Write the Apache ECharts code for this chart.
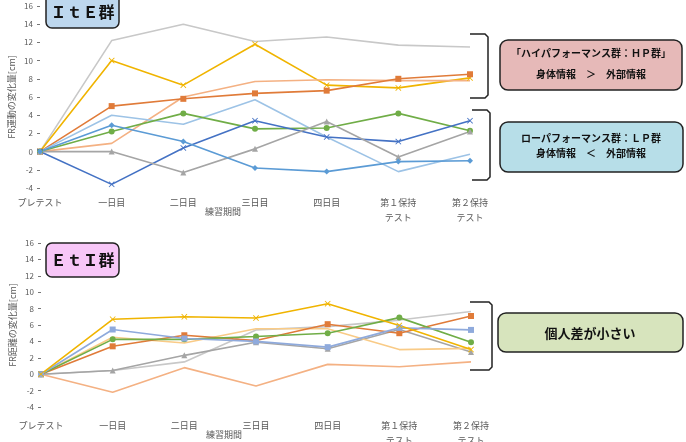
<!DOCTYPE html>
<html>
<head>
<meta charset="utf-8">
<script src="https://cdn.jsdelivr.net/npm/echarts@6/dist/echarts.min.js"></script>
<style>
  html, body { margin: 0; padding: 0; background: #fff; }
  #chart { width: 686px; height: 442px; }
</style>
</head>
<body>
<div id="chart"></div>
<script>
// 練習期間（横軸）
const categories = ['プレテスト', '一日目', '二日目', '三日目', '四日目', '第１保持\nテスト', '第２保持\nテスト']
const yTicks = [-4, 16, 2]

// ItE群（上のグラフ）
const iteNames = ['A1', 'A2', 'A3', 'A4', 'A5', 'A6', 'A7', 'A8', 'A9']
const iteValues = [
  [0, 12.2, 14.0, 12.1, 12.6, 11.7, 11.5],
  [0, 10.0, 7.3, 11.8, 7.3, 7.0, 8.1],
  [0, 0.9, 6.0, 7.7, 7.9, 7.8, 7.8],
  [0, 5.0, 5.8, 6.4, 6.7, 8.0, 8.5],
  [0, 4.0, 3.0, 5.7, 1.6, -2.2, -0.3],
  [0, 2.2, 4.2, 2.5, 2.6, 4.2, 2.3],
  [0, -3.6, 0.4, 3.4, 1.6, 1.1, 3.4],
  [0, 0, -2.3, 0.3, 3.3, -0.6, 2.2],
  [0, 2.9, 1.1, -1.8, -2.2, -1.1, -1.0]
]
const iteColors = ['#c8c8c8', '#f0b400', '#f4b183', '#e07b39', '#9dc3e6', '#70ad47', '#4472c4', '#a5a5a5', '#5b9bd5']
const iteSymbols = ['none', 'x', 'none', 'rect', 'none', 'circle', 'x', 'triangle', 'diamond']

// EtI群（下のグラフ）
const etiNames = ['B1', 'B2', 'B3', 'B4', 'B5', 'B6', 'B7', 'B8']
const etiValues = [
  [0, -2.2, 0.8, -1.45, 1.2, 0.9, 1.5],
  [0, 0.45, 1.5, 5.4, 5.8, 6.6, 7.65],
  [0, 0.45, 2.3, 3.9, 3.1, 5.45, 2.7],
  [0, 4.5, 3.8, 5.55, 5.55, 3.0, 3.15],
  [0, 3.4, 4.75, 4.1, 6.1, 5.0, 7.1],
  [0, 4.25, 4.25, 4.6, 5.0, 6.9, 3.9],
  [0, 5.45, 4.35, 4.0, 3.3, 5.65, 5.4],
  [0, 6.7, 7.0, 6.85, 8.6, 5.95, 3.0]
]
const etiColors = ['#f4b183', '#c8c8c8', '#a5a5a5', '#f9cb87', '#e07b39', '#70ad47', '#8faadc', '#f0b400']
const etiSymbols = ['none', 'none', 'triangle', 'none', 'rect', 'circle', 'rect', 'x']

const xPath = 'path://M0,1L1,0L5,4L9,0L10,1L6,5L10,9L9,10L5,6L1,10L0,9L4,5Z'
const font = '"Noto Sans CJK JP", "Noto Sans", sans-serif'

function makeSeries (names, values, colors, symbols, idx) {
  return values.map((data, i) => {
    const sym = symbols[i]
    return {
      name: names[i],
      type: 'line',
      xAxisIndex: idx,
      yAxisIndex: idx,
      data: data,
      symbol: sym === 'none' ? 'none' : (sym === 'x' ? xPath : sym),
      symbolSize: 6,
      showSymbol: sym !== 'none',
      lineStyle: { color: colors[i], width: 1.6 },
      itemStyle: { color: colors[i] },
      animation: false
    }
  })
}

function xAxisCfg (idx, labelMargin, nameGap) {
  return {
    type: 'category',
    gridIndex: idx,
    data: categories,
    boundaryGap: false,
    axisLine: { show: false },
    axisTick: { show: false },
    axisLabel: { color: '#595959', fontSize: 9, fontFamily: font, margin: labelMargin, lineHeight: 15, interval: 0 },
    name: '練習期間',
    nameLocation: 'middle',
    nameGap: nameGap,
    nameMoveOverlap: false,
    nameTextStyle: { color: '#595959', fontSize: 9, fontFamily: font, padding: [0, 64, 0, 0] }
  }
}

function yAxisCfg (idx, name) {
  return {
    type: 'value',
    gridIndex: idx,
    min: yTicks[0],
    max: yTicks[1],
    interval: yTicks[2],
    splitLine: { show: false },
    axisLine: { show: false },
    axisTick: { show: true, length: 3, lineStyle: { color: '#777' } },
    axisLabel: { color: '#595959', fontSize: 8, fontFamily: font, margin: 7 },
    name: name,
    nameLocation: 'middle',
    nameGap: 24,
    nameMoveOverlap: false,
    nameTextStyle: { color: '#595959', fontSize: 9, fontFamily: font }
  }
}

function box (x, y, w, h, fill, r) {
  return {
    type: 'rect',
    shape: { x: x, y: y, width: w, height: h, r: r },
    style: { fill: fill, stroke: '#222', lineWidth: 1.5 }
  }
}

function label (x, y, text, size) {
  return {
    type: 'text',
    x: x,
    y: y,
    style: { text: text, fill: '#111', font: 'bold ' + size + 'px ' + font, align: 'center', verticalAlign: 'middle' }
  }
}

function bracket (x1, x2, y1, y2) {
  return {
    type: 'polyline',
    shape: { points: [[x1, y1], [x2 - 3, y1], [x2, y1 + 3], [x2, y2 - 3], [x2 - 3, y2], [x1, y2]] },
    style: { stroke: '#222', lineWidth: 1.5, fill: null }
  }
}

const chart = echarts.init(document.getElementById('chart'))
chart.setOption({
  backgroundColor: '#fff',
  animation: false,
  grid: [
    { left: 40, right: 216, top: 6, height: 182, outerBoundsMode: 'none' },
    { left: 41, right: 215, top: 243, height: 164, outerBoundsMode: 'none' }
  ],
  xAxis: [xAxisCfg(0, 7, 19), xAxisCfg(1, 11, 23)],
  yAxis: [yAxisCfg(0, 'FR運動の変化量[cm]'), yAxisCfg(1, 'FR距離の変化量[cm]')],
  series: makeSeries(iteNames, iteValues, iteColors, iteSymbols, 0)
    .concat(makeSeries(etiNames, etiValues, etiColors, etiSymbols, 1)),
  graphic: [
    box(46, -6, 73, 34, '#bdd7ee', 6),
    label(82.5, 12, 'ＩｔＥ群', 16),
    box(46, 243, 73, 34, '#f7c6f7', 6),
    label(82.5, 260, 'ＥｔＩ群', 16),
    bracket(470, 488, 34, 98),
    bracket(472, 490, 110, 180),
    bracket(470, 492, 302, 370),
    box(500, 40, 182, 50, '#e6b9b8', 8),
    label(591, 53, '「ハイパフォーマンス群：ＨＰ群」', 10),
    label(591, 74, '身体情報　＞　外部情報', 10),
    box(500, 122, 183, 50, '#b7dee8', 8),
    label(591, 138, 'ローパフォーマンス群：ＬＰ群', 10),
    label(591, 153, '身体情報　＜　外部情報', 10),
    box(498, 313, 185, 39, '#d7e4bd', 8),
    label(590, 333, '個人差が小さい', 13)
  ]
})
</script>
</body>
</html>
